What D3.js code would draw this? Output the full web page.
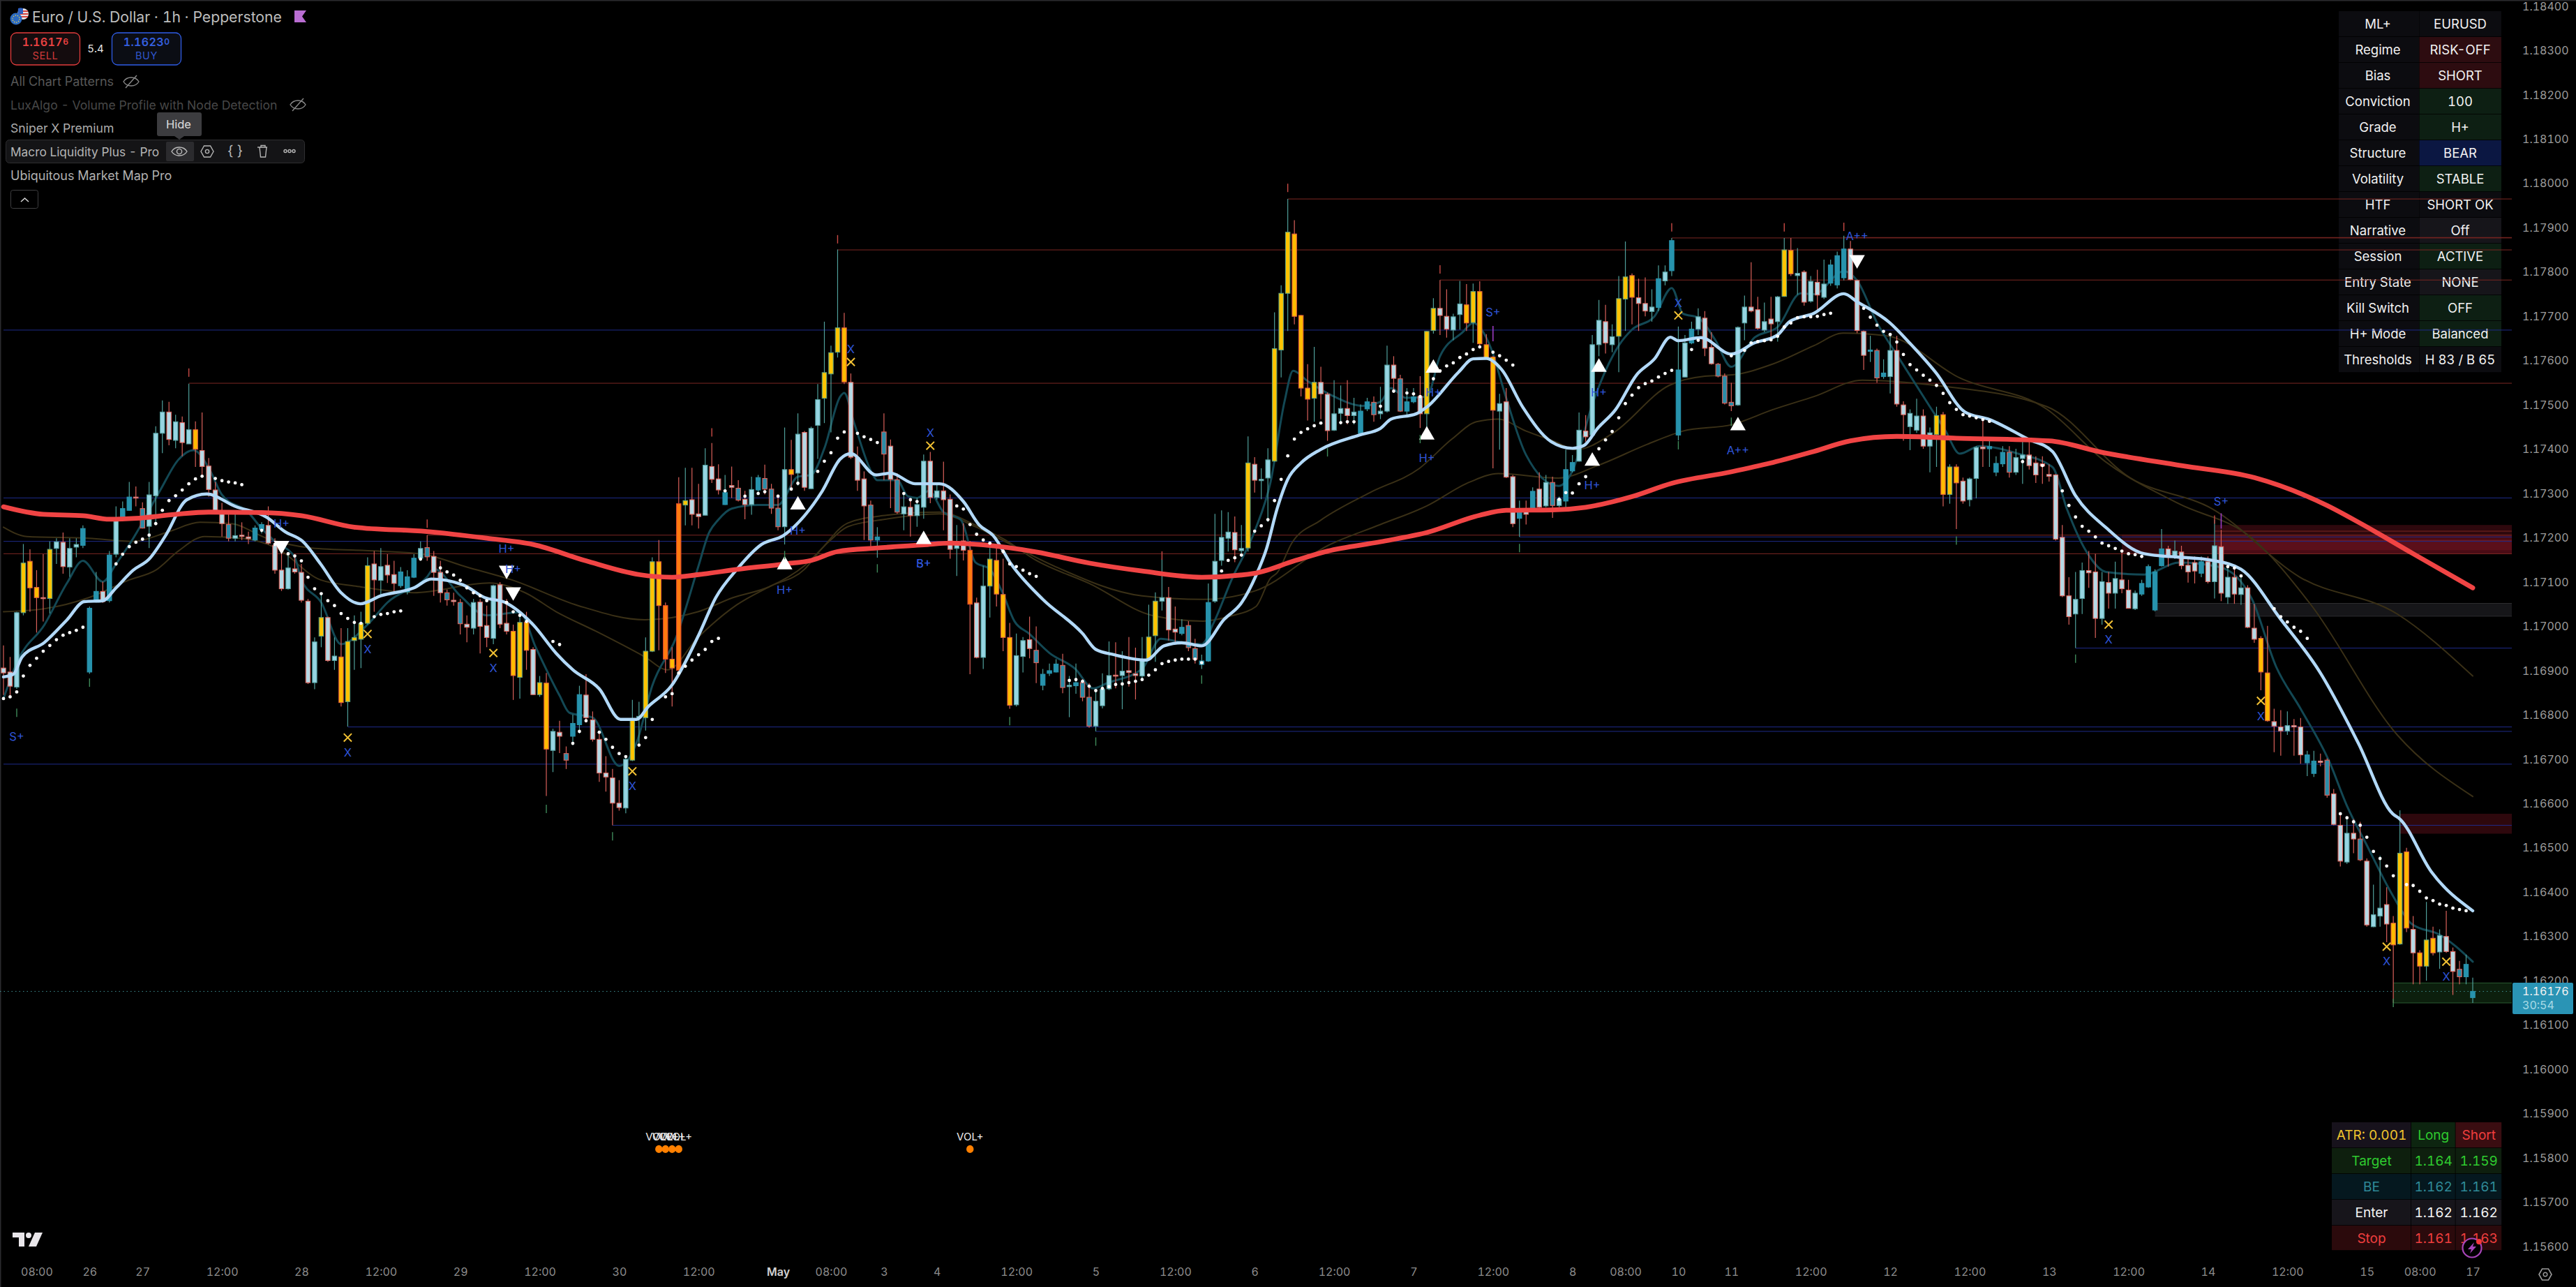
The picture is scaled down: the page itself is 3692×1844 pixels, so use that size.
<!DOCTYPE html>
<html>
<head>
<meta charset="utf-8">
<title>EURUSD 1h</title>
<script src="https://cdn.jsdelivr.net/npm/d3@7"></script>
<style>
html,body{margin:0;padding:0;background:#000;overflow:hidden}
svg{display:block;font-family:Inter,"Noto Sans",sans-serif;font-variant-numeric:tabular-nums}
</style>
</head>
<body>
<svg id="chart" width="3692" height="1844"></svg>
<script>
// All prices below are stored in points (1 point = 0.00001).
const bodyTop = [
116906,116897,117031,117143,117147,117088,117065,117174,117191,117190,
117176,117185,117221,117041,117079,117079,117161,117244,117266,117292,
117292,117266,117297,117436,117484,117484,117462,117460,117444,117444,
117397,117362,117308,117261,117230,117205,117206,117202,117222,117230,
117228,117183,117127,117132,117130,117122,117057,116965,117020,117020,
116933,116931,116966,116975,117007,117137,117141,117135,117138,117117,
117123,117112,117154,117176,117178,117158,117122,117076,117059,117054,
117005,117054,117055,117002,117092,117094,117007,116989,117009,117009,
116948,116873,116872,116763,116761,116713,116781,116846,116845,116789,
116745,116669,116658,116601,116700,116792,116797,116944,117146,117146,
117047,116926,117277,117284,117286,117254,117364,117361,117333,117302,
117318,117312,117287,117309,117336,117334,117310,117267,117354,117354,
117434,117438,117447,117512,117573,117618,117674,117674,117551,117381,
117333,117274,117202,117439,117407,117331,117270,117269,117275,117373,
117373,117306,117306,117287,117192,117193,117172,117053,117091,117152,
117149,117072,116975,116934,116968,116970,116946,116892,116900,116915,
116912,116867,116873,116873,116840,116831,116858,116889,116890,116899,
116900,116893,116924,116976,117057,117065,117065,116994,116998,117002,
116950,116922,117054,117147,117201,117213,117212,117176,117369,117366,
117332,117376,117627,117752,117890,117886,117702,117538,117551,117551,
117524,117480,117492,117492,117484,117486,117507,117506,117486,117590,
117590,117559,117507,117518,117519,117666,117718,117718,117700,117699,
117728,117726,117756,117756,117636,117608,117503,117507,117338,117260,
117266,117305,117310,117325,117325,117287,117354,117370,117443,117441,
117636,117691,117688,117654,117740,117789,117792,117742,117729,117721,
117785,117800,117871,117579,117640,117671,117699,117696,117630,117592,
117565,117506,117675,117721,117721,117715,117688,117694,117744,117850,
117849,117797,117800,117779,117777,117773,117816,117837,117852,117852,
117781,117666,117624,117623,117572,117623,117623,117500,117481,117475,
117475,117437,117476,117478,117360,117360,117328,117333,117404,117405,
117406,117368,117393,117393,117381,117387,117387,117369,117367,117343,
117342,117201,117069,117061,117126,117126,117123,117101,117099,117108,
117105,117082,117075,117097,117135,117123,117175,117175,117170,117168,
117138,117144,117146,117146,117182,117180,117111,117111,117087,117087,
116996,116973,116895,116785,116773,116776,116776,116773,116710,116696,
116696,116698,116622,116551,116533,116533,116520,116470,116349,116364,
116372,116330,116488,116491,116316,116263,116292,116296,116302,116300,
116266,116226,116237,116176];

const bodyBottom = [
116895,116865,116863,117031,117087,117065,117063,117063,117176,117135,
117134,117179,117183,116897,117058,117056,117058,117163,117244,117262,
117290,117222,117226,117295,117436,117422,117420,117415,117412,117400,
117361,117309,117261,117232,117199,117199,117203,117198,117195,117219,
117188,117127,117085,117085,117123,117059,116873,116873,116978,116923,
116923,116828,116830,116968,116971,117007,117105,117104,117116,117097,
117092,117078,117111,117154,117157,117122,117076,117060,117056,117006,
116998,116996,117000,116975,116973,117005,116989,116889,116885,116946,
116846,116846,116723,116720,116752,116698,116752,116778,116794,116745,
116669,116660,116601,116591,116590,116698,116794,116794,116944,117047,
116926,116906,116901,117274,117253,117248,117251,117332,117308,117275,
117314,117285,117275,117275,117308,117310,117267,117225,117225,117343,
117346,117314,117311,117454,117515,117570,117619,117552,117382,117330,
117272,117195,117195,117389,117332,117258,117254,117250,117250,117269,
117291,117291,117286,117174,117176,117172,117050,116930,116930,117091,
117073,116975,116822,116823,116932,116950,116918,116867,116894,116897,
116862,116864,116866,116840,116775,116775,116821,116859,116889,116889,
116896,116889,116888,116926,116979,117057,116992,116987,116984,116952,
116926,116914,116922,117057,117149,117199,117173,117171,117177,117330,
117329,117335,117373,117624,117752,117700,117538,117513,117515,117525,
117442,117443,117481,117476,117476,117436,117491,117478,117480,117486,
117560,117486,117486,117507,117480,117480,117668,117702,117671,117669,
117704,117685,117686,117638,117605,117488,117486,117337,117232,117244,
117253,117268,117269,117272,117273,117273,117283,117351,117373,117428,
117432,117636,117640,117636,117655,117739,117743,117729,117712,117711,
117720,117780,117803,117432,117563,117640,117671,117628,117593,117565,
117504,117498,117500,117685,117712,117673,117669,117683,117688,117745,
117796,117792,117732,117734,117748,117743,117775,117771,117787,117783,
117668,117612,117621,117561,117564,117564,117502,117478,117451,117443,
117407,117407,117433,117298,117298,117324,117283,117286,117334,117401,
117401,117348,117367,117348,117348,117379,117363,117342,117362,117339,
117197,117069,117022,117028,117063,117121,117018,117018,117075,117075,
117085,117041,117040,117073,117089,117037,117137,117156,117156,117137,
117123,117125,117120,117101,117101,117075,117066,117073,117072,116998,
116971,116897,116787,116775,116764,116764,116773,116710,116692,116668,
116693,116619,116553,116470,116468,116520,116473,116326,116322,116346,
116328,116281,116283,116319,116263,116233,116233,116263,116265,116266,
116221,116209,116209,116162];

const wickHigh = [
116957,116931,117033,117186,117174,117127,117163,117192,117199,117212,
117199,117199,117228,117045,117123,117101,117170,117271,117282,117326,
117316,117280,117326,117452,117510,117507,117478,117474,117548,117463,
117483,117380,117326,117279,117256,117257,117235,117214,117228,117235,
117271,117199,117163,117163,117163,117141,117062,116975,117076,117022,
116975,116996,116996,117025,117033,117156,117170,117177,117163,117148,
117134,117127,117163,117192,117206,117170,117148,117083,117076,117062,
117025,117062,117062,117047,117094,117100,117062,117004,117029,117033,
116953,116888,116895,116769,116787,116729,116801,116866,116892,116808,
116765,116707,116678,116653,116703,116834,116830,116975,117156,117195,
117054,116953,117337,117358,117358,117322,117402,117414,117366,117342,
117361,117330,117306,117338,117342,117365,117322,117298,117449,117421,
117481,117441,117451,117547,117688,117634,117851,117708,117571,117406,
117350,117284,117224,117481,117422,117346,117298,117290,117290,117388,
117394,117322,117372,117298,117229,117233,117193,117065,117137,117177,
117177,117153,117008,116984,116976,117022,117000,116904,116916,116926,
116938,116888,116916,116881,116872,116856,116894,116966,116964,116944,
116976,116952,116976,117049,117077,117153,117089,117045,117016,117012,
116972,116936,117097,117254,117262,117258,117248,117229,117429,117382,
117357,117402,117709,117770,117965,117917,117703,117592,117631,117586,
117528,117556,117544,117556,117516,117501,117516,117519,117541,117634,
117610,117568,117538,117538,117565,117667,117741,117782,117761,117706,
117780,117773,117774,117779,117660,117610,117525,117538,117342,117284,
117284,117314,117348,117342,117338,117293,117399,117387,117483,117477,
117658,117737,117726,117682,117791,117869,117797,117785,117788,117761,
117815,117815,117877,117677,117658,117688,117718,117712,117664,117595,
117571,117550,117677,117747,117822,117744,117731,117744,117746,117877,
117877,117854,117804,117791,117805,117828,117828,117846,117882,117870,
117783,117668,117656,117627,117603,117656,117656,117508,117490,117514,
117490,117449,117496,117484,117366,117366,117336,117336,117407,117473,
117419,117384,117407,117407,117401,117419,117425,117384,117384,117366,
117344,117229,117111,117123,117144,117170,117164,117123,117123,117146,
117170,117105,117081,117105,117140,117129,117220,117182,117194,117182,
117152,117158,117158,117158,117241,117218,117135,117135,117111,117093,
117051,116978,117001,116814,116811,116808,116791,116793,116719,116719,
116713,116702,116633,116577,116571,116565,116559,116476,116417,116482,
116411,116346,116585,116500,116346,116269,116378,116322,116316,116358,
116275,116245,116259,116207];

const wickLow = [
116845,116841,116859,117025,117033,116986,117011,117029,117141,117119,
117112,117156,117177,116893,117054,117053,117054,117156,117242,117261,
117271,117221,117177,117232,117391,117409,117402,117384,117412,117360,
117337,117293,117257,117203,117192,117192,117195,117186,117192,117210,
117185,117119,117080,117083,117119,117054,116870,116858,116953,116920,
116902,116819,116774,116902,116906,117004,117033,117069,117098,117076,
117087,117072,117109,117148,117148,117069,117054,117047,117047,116982,
116964,116982,116939,116953,116960,116996,116982,116834,116837,116902,
116845,116841,116617,116671,116714,116678,116732,116758,116783,116740,
116649,116627,116551,116584,116578,116696,116729,116765,116942,116946,
116895,116819,116899,117228,117228,117221,117250,117324,117298,117274,
117290,117282,117242,117252,117302,117298,117254,117217,117185,117306,
117318,117306,117310,117378,117459,117438,117607,117547,117378,117306,
117195,117181,117155,117330,117267,117254,117217,117203,117225,117243,
117278,117286,117217,117153,117114,117149,116892,116928,116904,117020,
117045,116944,116814,116819,116896,116928,116872,116856,116888,116896,
116849,116795,116848,116831,116771,116763,116815,116856,116860,116813,
116864,116835,116880,116924,116920,117036,116968,116964,116980,116944,
116916,116904,116920,117053,117137,117169,117145,117157,117169,117302,
117287,117236,117372,117562,117667,117682,117519,117465,117462,117468,
117419,117441,117456,117456,117456,117432,117486,117462,117468,117483,
117531,117484,117474,117504,117448,117429,117661,117658,117652,117646,
117670,117667,117640,117634,117604,117357,117399,117335,117224,117202,
117230,117266,117266,117269,117245,117269,117266,117348,117372,117417,
117429,117610,117616,117619,117574,117667,117682,117667,117700,117688,
117712,117770,117791,117420,117562,117637,117658,117610,117591,117562,
117501,117486,117498,117646,117709,117670,117664,117646,117643,117744,
117791,117749,117724,117731,117710,117739,117769,117763,117781,117781,
117662,117579,117597,117550,117559,117526,117496,117419,117398,117437,
117401,117348,117360,117271,117277,117220,117277,117271,117289,117360,
117360,117339,117360,117336,117342,117322,117354,117324,117322,117327,
117194,117066,117004,116951,117028,117087,116974,117004,117040,117040,
117075,117040,117037,117069,117087,117034,117135,117135,117152,117129,
117099,117097,117111,117097,117063,117057,117051,117051,117049,116996,
116963,116856,116785,116716,116708,116755,116708,116690,116662,116660,
116684,116613,116551,116458,116464,116488,116470,116322,116321,116322,
116287,116150,116281,116310,116192,116192,116200,116257,116227,116263,
116168,116192,116192,116150];

// One letter per bar: L pale up, P pale down, Y amber up, O amber down, D deep orange, T teal up, R teal down.
const candleStates =
"PPLYOOPYLP"+"LLTTTPTLTT"+"PRLLLPLPLO"+"PPPPRLPPTT"+"PPPLPPPLYP"+"LOYYYYPLPP"+"TTTLRPPRPR"+"PLPPLPPOYO"+
"PYOLPRTTPP"+"PPPPLYLYYO"+"DODYPPLPPT"+"PRPLTRRRLO"+"LPLLYYYOPP"+"PRTRPRLPLL"+"PLPPLPDPLY"+"OOOLLPRTTT"+
"RLTRRLLLPL"+"PPLYYLPPTR"+"RTTLLLPLYP"+"LLYYYOOOYP"+"PLLPLTTRLL"+"PRTTPYYPPL"+"LOYOOOLPPT"+"PTPLRLTTLP"+
"LLPLYYOPPL"+"TLTTLTLPPR"+"RRLLPPLPLY"+"OLPLPLTTTP"+"PPTRTLPPLL"+"PLYOYOPLLP"+"TTTRLLPPPP"+"PPPLLPPLPL"+
"PPLTTTTPLP"+"PPTPLPLPLP"+"POOPPLPPTT"+"PRPPLPRPLL"+"POYOPOYOLP"+"PRTT";

// Moving averages, as [bar, points].
const trendLine = [[0,117270],[6,117253],[12,117250],[16,117242],[20,117244],[26,117253],[31,117258],[39,117257],[45,117250],[53,117224],[64,117214],[73,117199],[80,117185],[88,117148],[96,117117],[101,117111],[105,117117],[111,117129],[118,117141],[122,117149],[126,117169],[132,117177],[139,117184],[143,117188],[148,117184],[156,117168],[164,117143],[172,117125],[181,117111],[189,117120],[195,117148],[200,117170],[208,117191],[215,117212],[223,117251],[227,117262],[234,117263],[239,117269],[246,117293],[252,117323],[261,117349],[267,117369],[273,117393],[279,117419],[286,117429],[295,117425],[309,117419],[317,117393],[329,117363],[340,117336],[351,117273],[356,117233],[364,117164],[373,117087]];

const signalLine = [[0,116886],[1.5,116892],[2.8,116931],[6.2,116964],[9.6,117015],[12.2,117056],[15,117058],[17,117087],[19.6,117127],[22,117152],[24.4,117203],[27.7,117286],[30.7,117299],[35,117271],[39.8,117246],[42.5,117214],[45.2,117192],[47.9,117141],[51,117076],[53.9,117051],[57,117069],[62,117087],[64.6,117107],[69.4,117094],[72.7,117065],[75.8,117054],[80,117004],[83.5,116939],[86,116902],[90,116859],[93.2,116790],[95.6,116790],[97.4,116819],[100.9,116866],[105,116980],[107.6,117065],[110.8,117129],[114.5,117185],[117.8,117205],[121,117250],[123.7,117306],[126.4,117378],[128,117390],[131.8,117342],[134,117346],[137.7,117322],[141.4,117322],[145,117282],[147.4,117229],[149.5,117205],[152.2,117141],[157,117061],[163,116984],[165,116948],[167.8,116936],[172.6,116924],[175.3,116956],[178,116963],[181,116956],[184.4,117016],[187,117053],[189.2,117115],[190.8,117176],[192.4,117266],[194,117332],[196,117369],[198.9,117399],[204.8,117432],[208,117447],[209.6,117468],[213.4,117480],[215,117495],[219.8,117574],[222,117604],[224,117605],[226.3,117580],[229.5,117495],[233.8,117417],[237,117402],[238.7,117408],[240.8,117447],[243.5,117489],[246.7,117568],[249.4,117604],[251.8,117653],[253,117645],[256.4,117652],[261,117615],[264.5,117640],[268,117658],[269.8,117688],[273.5,117707],[278,117751],[280,117733],[284.9,117686],[288,117639],[291.9,117573],[296.3,117484],[300,117467],[305.8,117423],[309.5,117395],[313,117295],[317.6,117223],[323.4,117164],[333.7,117149],[338,117129],[344,117016],[349.9,116897],[355.7,116737],[360.9,116577],[362,116565],[366.7,116447],[373,116358]];

const fastLine = [[0,116837],[2.2,116924],[6.2,117004],[9.6,117098],[12,117148],[15,117101],[17,117141],[19.6,117199],[23.7,117308],[26.4,117376],[28.7,117398],[31,117358],[33,117297],[37,117257],[39,117221],[41,117192],[44,117156],[45,117105],[48,117054],[51,116960],[55,117004],[58,117054],[64,117112],[65,117130],[69,117069],[73,117025],[78,117032],[80.4,116953],[84,116844],[85.5,116805],[89,116794],[93,116685],[95.6,116736],[98,116866],[101.6,116975],[105,117137],[106.5,117209],[108,117241],[110,117266],[114,117274],[117,117274],[120,117338],[122,117342],[124,117402],[126.4,117519],[127,117527],[128.5,117459],[131.2,117346],[132,117330],[135,117330],[136.6,117294],[138,117290],[139.8,117306],[142,117258],[144.6,117241],[146.8,117145],[149,117129],[151,117073],[152.7,117012],[154.9,116984],[158,116940],[161.9,116904],[164.6,116860],[166.7,116872],[172,116904],[174.8,116972],[178,116964],[181,116960],[182.8,117008],[185.5,117105],[189,117215],[191.4,117326],[193.5,117507],[194.8,117577],[197,117554],[201,117519],[205.3,117498],[208,117507],[209.6,117538],[211.8,117516],[215,117519],[217,117610],[220.4,117664],[222,117685],[224.7,117628],[226.8,117525],[230,117387],[234.9,117317],[237,117351],[240,117501],[244,117634],[246,117670],[249.4,117700],[252,117764],[253.7,117706],[256,117697],[258.6,117646],[261,117586],[264.5,117652],[268,117676],[271.5,117752],[273.5,117750],[278,117802],[280,117781],[283,117686],[286.7,117597],[291,117496],[293.3,117443],[295.5,117390],[298.5,117407],[304.3,117390],[309.5,117360],[311.7,117265],[314.6,117170],[317.6,117123],[323.4,117117],[328.6,117144],[334.4,117135],[337.4,117111],[339.6,117063],[343.3,116909],[347,116814],[351.3,116696],[354,116595],[357,116506],[360.9,116393],[363.8,116328],[368,116304],[373,116243]];

const slowLineA = [[0,117033],[6.2,117040],[12.9,117065],[19,117105],[23,117127],[26.4,117170],[30.4,117203],[36.4,117198],[41.2,117177],[47.9,117105],[53.2,117091],[62,117076],[73.4,117098],[78.8,117076],[83.5,117033],[89.5,116989],[96.9,116931],[100.3,116902],[104.9,116975],[110.8,117049],[115.6,117089],[121,117129],[123.7,117177],[127.5,117233],[132.8,117250],[141.4,117258],[146.8,117229],[151.1,117197],[156,117149],[164,117097],[173.7,117024],[181.2,117012],[185.5,117024],[189.2,117045],[191.4,117109],[192.4,117121],[194.6,117188],[198.9,117239],[206.4,117302],[213.9,117357],[218.8,117423],[222.5,117462],[225.8,117468],[230,117441],[234.4,117417],[237.6,117399],[243,117435],[251.6,117544],[257,117565],[261.2,117568],[267.2,117592],[273.5,117634],[277.9,117662],[284.5,117656],[295.5,117561],[308.7,117490],[317.5,117372],[328.6,117277],[339.6,117200],[348.4,117052],[361.6,116755],[373,116616]];

const slowLineB = [[0,117224],[3.5,117203],[12.9,117199],[19.6,117192],[25,117214],[29.7,117235],[34.4,117232],[39.8,117199],[46.5,117177],[56.6,117170],[63.3,117163],[70,117134],[76.8,117105],[86.8,117047],[96.9,117015],[104.9,117033],[110.2,117065],[115.6,117089],[121,117137],[124.8,117193],[127.5,117225],[132.8,117241],[141.4,117254],[146.8,117225],[151.1,117193],[158.6,117137],[172,117069],[181.2,117061],[189.2,117081],[200,117182],[208,117230],[215,117272],[221.5,117326],[225.8,117345],[234.9,117335],[240.8,117363],[248.3,117411],[253.7,117441],[261.2,117456],[267.2,117489],[273.5,117519],[280.8,117556],[291.9,117544],[308.7,117496],[321.2,117336],[333.7,117265],[346.9,117111],[361.6,117028],[373,116888]];

// Stop-and-reverse dots.
const trailDots = [[0,116837],[1,116841],[2,116852],[3,116888],[4,116912],[5,116928],[6,116944],[7,116957],[8,116970],[9,116980],[10,116986],[11,116991],[12,116998],[17,117141],[18,117163],[19,117180],[20,117190],[21,117197],[22,117206],[23,117232],[24,117262],[25,117284],[26,117295],[27,117308],[28,117322],[29,117333],[30,117339],[32,117334],[33,117329],[34,117326],[35,117324],[36,117320],[39,117217],[41,117185],[42,117174],[43,117164],[44,117159],[45,117148],[46,117111],[47,117085],[48,117074],[49,117058],[50,117047],[51,117029],[52,117018],[53,117009],[54,117007],[56,117022],[57,117027],[58,117029],[59,117033],[60,117035],[63,117152],[66,117132],[67,117123],[68,117116],[69,117104],[70,117087],[71,117076],[72,117069],[73,117058],[76,117054],[77,117033],[78,117025],[79,117011],[83,116966],[84,116959],[86,116736],[87,116763],[88,116787],[90,116761],[91,116745],[92,116727],[93,116713],[94,116706],[96,116732],[97,116749],[98,116790],[100,116841],[101,116848],[102,116895],[103,116910],[104,116924],[105,116936],[106,116948],[107,116966],[108,116973],[109,117306],[112,117294],[114,117300],[115,117304],[117,117294],[119,117310],[120,117323],[123,117350],[124,117373],[125,117392],[126,117425],[127,117439],[129,117436],[130,117428],[131,117422],[132,117415],[136,117300],[137,117286],[138,117282],[144,117272],[145,117265],[146,117230],[147,117208],[148,117195],[149,117188],[151,117169],[152,117141],[153,117135],[154,117127],[155,117119],[156,117113],[161,116878],[162,116880],[163,116876],[164,116865],[165,116855],[166,116860],[167,116864],[168,116869],[169,116870],[170,116873],[171,116876],[172,116880],[173,116890],[174,116902],[175,116916],[176,116921],[177,116924],[178,116926],[179,116926],[180,116926],[181,116918],[184,117125],[185,117149],[186,117155],[187,117161],[189,117215],[190,117227],[191,117241],[192,117284],[193,117332],[194,117385],[195,117423],[196,117438],[197,117446],[198,117453],[199,117459],[202,117460],[203,117462],[204,117462],[208,117497],[210,117531],[212,117527],[213,117525],[214,117519],[216,117559],[217,117577],[218,117588],[219,117595],[220,117607],[221,117615],[222,117625],[223,117631],[225,117619],[226,117611],[227,117601],[228,117590],[235,117287],[236,117302],[237,117301],[238,117322],[239,117338],[241,117401],[242,117421],[243,117440],[244,117471],[245,117503],[246,117522],[247,117539],[248,117548],[249,117554],[250,117563],[251,117571],[252,117578],[255,117625],[256,117646],[261,117611],[263,117623],[264,117640],[265,117643],[266,117645],[267,117647],[268,117655],[269,117676],[270,117685],[271,117697],[272,117699],[273,117699],[274,117700],[275,117704],[276,117707],[281,117718],[282,117698],[283,117680],[284,117666],[285,117659],[286,117642],[287,117614],[288,117591],[289,117579],[290,117567],[291,117556],[292,117544],[293,117526],[294,117505],[295,117490],[296,117478],[297,117475],[298,117471],[299,117467],[300,117463],[305,117372],[306,117381],[308,117363],[311,117306],[312,117273],[313,117247],[314,117226],[315,117215],[316,117202],[317,117188],[318,117182],[319,117176],[320,117170],[321,117164],[322,117162],[323,117158],[336,117135],[337,117132],[338,117114],[343,117040],[344,117022],[345,117010],[346,116998],[347,116989],[348,116973],[353,116577],[354,116568],[355,116559],[356,116551],[357,116524],[358,116492],[359,116476],[360,116459],[361,116437],[363,116417],[364,116415],[365,116402],[366,116387],[367,116381],[368,116373],[369,116370],[370,116364],[371,116361],[372,116358]];

// Horizontal levels as [first bar, points]; they run on to the price scale.
const supplyLevels = [[28,117549],[64,117206],[0,117164],[126,117850],[194,117965],[217,117782],[252,117877],[278,117878],[334,117215],[320,117193]];
const demandLevels = [[0,117669],[0,117290],[0,117192],[52,116773],[165,116763],[0,116689],[92,116551],[229,117202],[313,116951]];

// Zones as [first bar, top points, bottom points].
const supplyZones = [[334,117229,117164],[320,117207,117164],[334,117196,117172],[362,116577,116532]];
const neutralZones = [[325,117052,117023]];
const targetZones = [[361,116195,116150]];

// Signal markers.
const longEntries = [[120,117274],[118,117139],[139,117196],[215,117432],[216,117583],[240,117373],[241,117585],[262,117453]];
const shortEntries = [[42,117183],[76,117127],[77,117078],[280,117828]];
const gradeBars = [42,76,77,2,120,118,139,139,225,216,215,241,240,262,280,335];
const gradePrices = [117233,117176,117130,116752,117217,117083,117142,117142,117709,117528,117380,117528,117319,117397,117882,117283];
const gradeLabels = ["H+","H+","H+","S+","H+","H+","S+","B+","S+","H+","H+","H+","H+","A++","A++","S+"];
const exitBars = [52,55,74,95,128,140,253,318,341,360,369];
const exitCrossPrices = [116749,116983,116940,116673,117597,117408,117702,117004,116832,116277,116243];
const exitLetterPrices = [116716,116948,116906,116640,117627,117437,117731,116970,116797,116244,116209];
const highTicks = [[28,117573],[64,117232],[107,117438],[126,117874],[175,117160],[194,117990],[217,117806],[252,117901],[269,117901],[278,117902],[334,117241]];
const lowTicks = [[2,116805],[13,116873],[82,116588],[92,116526],[118,117161],[132,117131],[152,116786],[165,116740],[181,116880],[200,117393],[214,117423],[229,117177],[253,117409],[261,117462],[295,117194],[313,116927],[361,116150]];
const pivotTicks = [[225,117661],[335,117238]];
const volumeBars = [99,100,101,102,146];
const volumeLevel = 115820;

const lastPrice = 116176;
const priceTicks = d3.range(0,29).map(i => 118400 - i*100);
const timeBars = [5,13,21,33,45,57,69,81,93,105,117,125,133,141,153,165,177,189,201,213,225,237,245,253,261,273,285,297,309,321,333,345,357,365,373];
const timeLabels = ["08:00","26","27","12:00","28","12:00","29","12:00","30","12:00","May","08:00","3","4","12:00","5","12:00","6","12:00","7","12:00","8","08:00","10","11","12:00","12","12:00","13","12:00","14","12:00","15","08:00","17"];

const panelNames = ["ML+","Regime","Bias","Conviction","Grade","Structure","Volatility","HTF","Narrative","Session","Entry State","Kill Switch","H+ Mode","Thresholds"];
const panelValues = ["EURUSD","RISK-OFF","SHORT","100","H+","BEAR","STABLE","SHORT OK","Off","ACTIVE","NONE","OFF","Balanced","H 83 / B 65"];
const panelMoods = ["base","bad","bad","good","good","blue","good","base","mute","good","mute","good","good","base"];
const levelHeads = ["ATR: 0.001","Long","Short"];
const levelNames = ["Target","BE","Enter","Stop"];
const levelLong = ["1.164","1.162","1.162","1.161"];
const levelShort = ["1.159","1.161","1.162","1.163"];

const width = 3692, height = 1844, chartRight = 3600;
const svg = d3.select("#chart");
const x = d3.scaleLinear().domain([0,373]).range([5,3544]);
const y = d3.scaleLinear().domain([1.184,1.156]).range([9,1786]);
const py = p => y(p/1e5);

svg.append("rect").attr("width",width).attr("height",height).attr("fill","#000");
svg.append("rect").attr("width",width).attr("height",1.5).attr("fill","#2b2b2e");
svg.append("rect").attr("width",1.5).attr("height",height).attr("fill","#2b2b2e");

// Status panel, top right. It sits under the levels, which show through it.
const panel = svg.append("g");
const moodFill = {base:"#0c0c10",bad:"#2d0c10",good:"#0d1f13",blue:"#0b1742",mute:"#16151a"};
panelNames.forEach((name,i) => {
  const top = 16 + i*37;
  panel.append("rect").attr("x",3352).attr("y",top).attr("width",115).attr("height",36.2).attr("fill","#0c0c10");
  panel.append("rect").attr("x",3467.5).attr("y",top).attr("width",117.5).attr("height",36.2).attr("fill",moodFill[panelMoods[i]]);
  panel.append("text").attr("x",3408).attr("y",top+18).attr("dy","0.36em").attr("text-anchor","middle").attr("font-size",18.5).attr("fill","#f2f2f2").text(name);
  panel.append("text").attr("x",3526).attr("y",top+18).attr("dy","0.36em").attr("text-anchor","middle").attr("font-size",18.5).attr("fill","#f2f2f2").text(panelValues[i]);
});

// Zones and levels.
const zoneLayer = svg.append("g");
const drawZones = (rows,fill,opacity) => zoneLayer.selectAll(null).data(rows).join("rect")
  .attr("x",d => x(d[0])).attr("width",d => chartRight-x(d[0]))
  .attr("y",d => py(d[1])).attr("height",d => py(d[2])-py(d[1]))
  .attr("fill",fill).attr("fill-opacity",opacity);
drawZones(supplyZones,"#7a1422",0.38);
drawZones(neutralZones,"#1e1e22",0.72);
drawZones(targetZones,"#1c4a20",0.42);
const zoneEdges = (rows,stroke) => rows.forEach(d => [d[1],d[2]].forEach(p =>
  zoneLayer.append("line").attr("x1",x(d[0])).attr("x2",chartRight).attr("y1",py(p)).attr("y2",py(p)).attr("stroke",stroke).attr("stroke-width",1)));
zoneEdges(neutralZones,"#2d2d30");
zoneEdges(targetZones,"#2a5c30");

const levelLayer = svg.append("g");
const drawLevels = (rows,stroke) => levelLayer.selectAll(null).data(rows).join("line")
  .attr("x1",d => x(d[0])).attr("x2",chartRight)
  .attr("y1",d => py(d[1])).attr("y2",d => py(d[1]))
  .attr("stroke",stroke).attr("stroke-width",1);
drawLevels(supplyLevels,"#7c2723");
drawLevels(demandLevels,"#1e2b8a");

// Last-price dotted line.
svg.append("line").attr("x1",0).attr("x2",chartRight).attr("y1",py(lastPrice)).attr("y2",py(lastPrice))
  .attr("stroke","#3f8f92").attr("stroke-width",1).attr("stroke-dasharray","1.5 4");

// Moving averages behind the candles.
const line = d3.line().x(d => x(d[0])).y(d => py(d[1])).curve(d3.curveMonotoneX);
const drawLine = (rows,stroke,w) => svg.append("path").attr("d",line(rows))
  .attr("fill","none").attr("stroke",stroke).attr("stroke-width",w).attr("stroke-linejoin","round").attr("stroke-linecap","round");
drawLine(slowLineA,"#3a3016",2);
drawLine(slowLineB,"#3a3016",2);
drawLine(fastLine,"#134854",3);

// Candles.
const stateFill = {L:"#96d5e2",P:"#b6d9e5",Y:"#ffc400",O:"#ffbb00",D:"#ff7b0f",T:"#2793ad",R:"#2b8da8"};
const stateEdge = {L:"#559f9f",P:"#e06a62",Y:"#62a27a",O:"#e2603c",D:"#d9482c",T:"#2793ad",R:"#d9625a"};
const stateWick = {L:"#4f9f9a",P:"#d9605a",Y:"#4f9f9a",O:"#d9605a",D:"#d9605a",T:"#4f9f9a",R:"#d9605a"};
const bars = d3.range(374).map(i => ({i,state:candleStates[i],top:bodyTop[i],bottom:bodyBottom[i],high:wickHigh[i],low:wickLow[i]}));
const candle = svg.append("g").selectAll("g").data(bars).join("g");
candle.append("line")
  .attr("x1",d => x(d.i)).attr("x2",d => x(d.i))
  .attr("y1",d => py(d.high)).attr("y2",d => py(d.low))
  .attr("stroke",d => stateWick[d.state]).attr("stroke-width",1.2);
candle.append("rect")
  .attr("x",d => x(d.i)-3.2).attr("width",6.4)
  .attr("y",d => py(d.top)).attr("height",d => Math.max(1.5,py(d.bottom)-py(d.top)))
  .attr("fill",d => stateFill[d.state]).attr("stroke",d => stateEdge[d.state]).attr("stroke-width",1.1);

// Averages in front of the candles.
drawLine(signalLine,"#b2d9f8",4.4);
drawLine(trendLine,"#f04444",6.8);

// Trailing dots.
svg.append("g").selectAll("circle").data(trailDots).join("circle")
  .attr("cx",d => x(d[0])).attr("cy",d => py(d[1])).attr("r",2.4).attr("fill","#fff");

// Entry triangles.
const triangle = d3.symbol(d3.symbolTriangle,215);
svg.append("g").selectAll("path").data(longEntries).join("path").attr("d",triangle)
  .attr("transform",d => `translate(${x(d[0])},${py(d[1])})`).attr("fill","#fff");
svg.append("g").selectAll("path").data(shortEntries).join("path").attr("d",triangle)
  .attr("transform",d => `translate(${x(d[0])},${py(d[1])}) rotate(180)`).attr("fill","#fff");

// Grades and exit marks.
svg.append("g").selectAll("text").data(gradeBars).join("text")
  .attr("x",d => x(d)).attr("y",(d,i) => py(gradePrices[i])).attr("dy","0.36em")
  .attr("text-anchor","middle").attr("font-size",16.5).attr("fill","#2f55d8").text((d,i) => gradeLabels[i]);
svg.append("g").selectAll("text").data(exitBars).join("text")
  .attr("x",d => x(d)).attr("y",(d,i) => py(exitLetterPrices[i])).attr("dy","0.36em")
  .attr("text-anchor","middle").attr("font-size",16.5).attr("fill","#2f55d8").text("X");
const cross = d3.symbol(d3.symbolTimes,85);
svg.append("g").selectAll("path").data(exitBars).join("path").attr("d",cross)
  .attr("transform",(d,i) => `translate(${x(d)},${py(exitCrossPrices[i])})`)
  .attr("fill","none").attr("stroke","#f3c234").attr("stroke-width",2);

// Small swing ticks.
const drawTicks = (rows,stroke) => svg.append("g").selectAll("line").data(rows).join("line")
  .attr("x1",d => x(d[0])).attr("x2",d => x(d[0]))
  .attr("y1",d => py(d[1])-6).attr("y2",d => py(d[1])+6).attr("stroke",stroke).attr("stroke-width",1.4);
drawTicks(highTicks,"#c94a45");
drawTicks(lowTicks,"#3f8a5a");
svg.append("g").selectAll("line").data(pivotTicks).join("line")
  .attr("x1",d => x(d[0])).attr("x2",d => x(d[0]))
  .attr("y1",d => py(d[1])-11).attr("y2",d => py(d[1])+11).attr("stroke","#9a3bc0").attr("stroke-width",1.6);

// Volume spikes along the bottom.
const volume = svg.append("g").selectAll("g").data(volumeBars).join("g");
volume.append("ellipse").attr("cx",d => x(d)).attr("cy",py(volumeLevel)).attr("rx",5.2).attr("ry",5.6).attr("fill","#ff8000");
volume.append("text").attr("x",d => x(d)).attr("y",py(volumeLevel)-18).attr("dy","0.36em")
  .attr("text-anchor","middle").attr("font-size",15).attr("fill","#ededed").text("VOL+");

// Price scale.
const priceAxis = d3.axisRight(y).tickValues(priceTicks.map(p => p/1e5)).tickFormat(d3.format(".5f")).tickSize(0).tickPadding(0);
const priceG = svg.append("g").attr("transform","translate(3615,0)").call(priceAxis);
priceG.select(".domain").remove();
priceG.selectAll("text").attr("font-size",16).attr("fill","#9b9b9b").attr("font-family","Inter");

// Time scale.
const timeAxis = d3.axisBottom(x).tickValues(timeBars).tickFormat((d,i) => timeLabels[i]).tickSize(0).tickPadding(0);
const timeG = svg.append("g").attr("transform","translate(0,1817)").call(timeAxis);
timeG.select(".domain").remove();
timeG.selectAll("text").attr("font-size",16).attr("fill","#8c8c8c").attr("font-family","Inter");
timeG.selectAll("text").filter(d => timeLabels[timeBars.indexOf(d)]==="May").attr("fill","#d2d2d2").attr("font-weight",600);

// Live price tag.
const tag = svg.append("g");
tag.append("rect").attr("x",3601).attr("y",1408).attr("width",87).attr("height",45).attr("rx",2).attr("fill","#2a94b5");
tag.append("text").attr("x",3615).attr("y",1426).attr("font-size",16).attr("fill","#f2f2f2").text(d3.format(".5f")(lastPrice/1e5));
tag.append("text").attr("x",3615).attr("y",1446).attr("font-size",16).attr("fill","#a9dbe6").text("30:54");

// Risk table, bottom right.
const risk = svg.append("g");
const riskX = [3342,3456,3519.5,3586];
const riskY = [1608,1645,1682,1719,1756,1792];
const riskFill = [["#17121c","#0d2510","#3a0d11"],["#0e1f0e","#0e1f0e","#0e1f0e"],["#05181f","#05181f","#05181f"],["#17151b","#17151b","#17151b"],["#2b0a0c","#2b0a0c","#2b0a0c"]];
const riskInk = [["#f0c52e","#2fcb2f","#ef3e3e"],["#2fcb2f","#2fcb2f","#2fcb2f"],["#2f8a98","#2f8a98","#2f8a98"],["#f5f5f5","#f5f5f5","#f5f5f5"],["#ef3e3e","#ef3e3e","#ef3e3e"]];
const riskRows = [levelHeads].concat(levelNames.map((n,i) => [n,levelLong[i],levelShort[i]]));
riskRows.forEach((row,r) => row.forEach((label,c) => {
  risk.append("rect").attr("x",riskX[c]).attr("y",riskY[r]).attr("width",riskX[c+1]-riskX[c]-0.8).attr("height",riskY[r+1]-riskY[r]-0.8).attr("fill",riskFill[r][c]);
  risk.append("text").attr("x",(riskX[c]+riskX[c+1])/2).attr("y",(riskY[r]+riskY[r+1])/2).attr("dy","0.36em")
    .attr("text-anchor","middle").attr("font-size",19).attr("fill",riskInk[r][c]).text(label);
}));

// Alert badge over the table corner.
const badge = svg.append("g").attr("transform","translate(3543,1788)");
badge.append("circle").attr("r",13.5).attr("fill","#000").attr("stroke","#a745b8").attr("stroke-width",2.2);
badge.append("path").attr("d","M3,-8L-6,2L-1,2L-3,8L6,-2L1,-2Z").attr("fill","#a745b8");
badge.append("circle").attr("cx",10).attr("cy",-9).attr("r",4).attr("fill","#f5383a");

// Scale settings icon.
svg.append("path").attr("transform","translate(3648,1826)")
  .attr("d","M-9,0L-4.5,-8L4.5,-8L9,0L4.5,8L-4.5,8Z").attr("fill","none").attr("stroke","#9a9a9a").attr("stroke-width",1.6);
svg.append("circle").attr("cx",3648).attr("cy",1826).attr("r",2.8).attr("fill","none").attr("stroke","#9a9a9a").attr("stroke-width",1.4);

// Platform logo.
const logo = svg.append("g").attr("fill","#e9e6ea");
logo.append("path").attr("d","M18,1766H35V1786H27V1773H18Z");
logo.append("circle").attr("cx",41).attr("cy",1770).attr("r",4);
logo.append("path").attr("d","M50,1766H61L52,1786H41Z");

// Header block.
const head = svg.append("g");
const label = (tx,ty,txt,size,fill,anchor) => head.append("text").attr("x",tx).attr("y",ty).attr("dy","0.36em")
  .attr("font-size",size).attr("fill",fill).attr("text-anchor",anchor||"start").text(txt);
head.append("circle").attr("cx",33).attr("cy",20).attr("r",8).attr("fill","#e9e3e6");
head.append("path").attr("d","M26,16H40M25.5,20H40.5M26,24H40").attr("stroke","#d8453f").attr("stroke-width",1.8);
head.append("path").attr("d","M26,12A8,8 0 0 1 33,12V20H25.5Z").attr("fill","#2d5fc0");
head.append("circle").attr("cx",23).attr("cy",27).attr("r",8.5).attr("fill","#2c6bc2");
head.append("circle").attr("cx",23).attr("cy",27).attr("r",5).attr("fill","none").attr("stroke","#f0cf4a").attr("stroke-width",1.3).attr("stroke-dasharray","1.3 1.8");
label(46,24.5,"Euro / U.S. Dollar · 1h · Pepperstone",21.2,"#bdbdbd");
head.append("path").attr("d","M422,15H439L433,23.5L439,32H422Z").attr("fill","#b96dd2");

// Quote buttons; the last digit of a quote is set small and raised.
const quote = (cx,txt,fill) => {
  const t = label(cx,60,"",16,fill,"middle").attr("font-weight",600).attr("letter-spacing","0.4");
  t.append("tspan").text(txt.slice(0,-1));
  t.append("tspan").attr("font-size",12).attr("dy",-1.5).text(txt.slice(-1));
};
head.append("rect").attr("x",15.5).attr("y",47).attr("width",99).attr("height",46).attr("rx",8).attr("fill","#140c0e").attr("stroke","#e23c3c").attr("stroke-width",1.3);
quote(65,"1.16176","#ea4242");
label(65,80,"SELL",14.5,"#cf3a3a","middle").attr("letter-spacing","0.6");
label(137,70,"5.4",15,"#e5e5e5","middle");
head.append("rect").attr("x",160.5).attr("y",47).attr("width",99).attr("height",46).attr("rx",8).attr("fill","#0b0d14").attr("stroke","#2f5ce6").attr("stroke-width",1.3);
quote(210,"1.16230","#3560e0");
label(210,80,"BUY",14.5,"#2f55cc","middle").attr("letter-spacing","0.6");

const eye = (cx,cy,stroke) => {
  const g = head.append("g").attr("transform",`translate(${cx},${cy})`).attr("fill","none").attr("stroke",stroke).attr("stroke-width",1.4);
  g.append("path").attr("d","M-11,0C-6,-8 6,-8 11,0C6,8 -6,8 -11,0Z");
  return g;
};
label(15,117,"All Chart Patterns",18,"#575757");
eye(188,117,"#8a8a8a").append("path").attr("d","M-8,9L8,-9");
label(15,151,"LuxAlgo - Volume Profile with Node Detection",17.6,"#474747");
eye(427,150,"#8a8a8a").append("path").attr("d","M-8,9L8,-9");
label(15,184,"Sniper X Premium",17.6,"#ababab");

head.append("rect").attr("x",8.5).attr("y",200.5).attr("width",428).attr("height",33).attr("rx",5).attr("fill","#141416").attr("stroke","#2e2e30");
label(15,218,"Macro Liquidity Plus - Pro",17.3,"#b5b5b5");
head.append("rect").attr("x",238).attr("y",203).attr("width",40).attr("height",28).attr("rx",2).attr("fill","#2b2b2e");
eye(257,217,"#bdbdbd").append("circle").attr("r",3.6);
const tools = head.append("g").attr("fill","none").attr("stroke","#b5b5b5").attr("stroke-width",1.4);
tools.append("path").attr("d","M288,217L292.5,209H301.5L306,217L301.5,225H292.5Z");
tools.append("circle").attr("cx",297).attr("cy",217).attr("r",2.6);
label(337,216,"{ }",20,"#b5b5b5","middle");
tools.append("path").attr("d","M369,211H383M372,211L373.5,225H380.5L382,211M374,211V208.5H380V211");
[409,415,421].forEach(cx => tools.append("circle").attr("cx",cx).attr("cy",216.5).attr("r",2));

head.append("rect").attr("x",225).attr("y",161).attr("width",64).attr("height",34).attr("rx",3).attr("fill","#3c3c3f");
head.append("path").attr("d","M250,195H264L257,200Z").attr("fill","#3c3c3f");
label(256,178,"Hide",16.5,"#dedede","middle");
label(15,252,"Ubiquitous Market Map Pro",18,"#b0b0b0");
head.append("rect").attr("x",15.5).attr("y",272.5).attr("width",39).attr("height",26).attr("rx",3).attr("fill","none").attr("stroke","#3e3e40");
head.append("path").attr("d","M30,289L35.5,284L41,289").attr("fill","none").attr("stroke","#d5d5d5").attr("stroke-width",1.6);
</script>
</body>
</html>
